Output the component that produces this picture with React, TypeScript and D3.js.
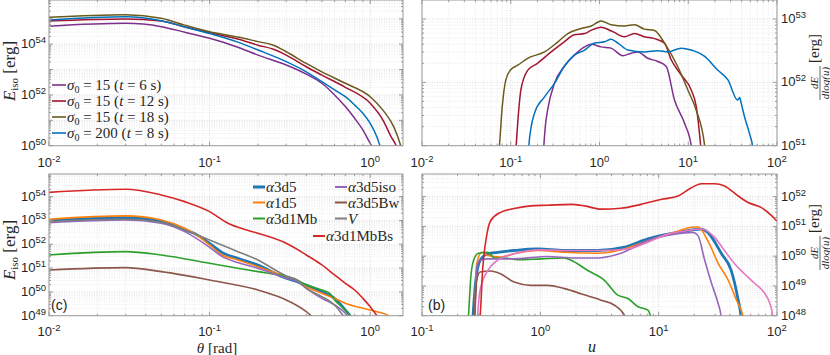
import React from "react";
import * as d3 from "d3";

type Pt = [number, number]; // [x value, log10 of energy in erg]

// ---------- Top-left: E_iso vs theta ----------
const tlS15t6: Pt[] = [[0.01,54.71],[0.03,54.82],[0.05,54.69],[0.07,54.47],[0.1,54.23],[0.15,53.88],[0.2,53.57],[0.3,53.18],[0.4,52.82],[0.5,52.46],[0.6,52.0],[0.7,51.54],[0.8,51.08],[0.9,50.62],[1.0,50.09],[1.02,50.0],[1.05,49.7]];
const tlS15t12: Pt[] = [[0.01,54.91],[0.03,54.99],[0.05,54.91],[0.07,54.68],[0.1,54.45],[0.15,54.2],[0.2,53.96],[0.25,53.8],[0.3,53.57],[0.4,53.11],[0.5,52.78],[0.7,52.3],[1.0,51.67],[1.2,51.01],[1.35,50.35],[1.45,50.0],[1.5,49.7]];
const tlS15t18: Pt[] = [[0.01,55.06],[0.03,55.16],[0.05,55.02],[0.07,54.75],[0.1,54.49],[0.15,54.28],[0.2,54.1],[0.25,53.96],[0.3,53.7],[0.4,53.24],[0.5,52.91],[0.7,52.46],[1.0,51.93],[1.2,51.4],[1.4,50.75],[1.55,50.0],[1.6,49.7]];
const tlS200t8: Pt[] = [[0.01,54.95],[0.03,55.08],[0.05,54.92],[0.07,54.68],[0.1,54.42],[0.15,54.08],[0.2,53.77],[0.3,53.31],[0.4,52.91],[0.5,52.52],[0.6,52.2],[0.7,51.93],[0.8,51.6],[0.9,51.28],[1.0,50.88],[1.1,50.35],[1.15,50.0],[1.2,49.7]];

// ---------- Top-right: dE/dlog(u) vs u ----------
const trS15t6: Pt[] = [[0.232,50.8],[0.236,51.0],[0.245,51.3],[0.26,51.56],[0.31,51.98],[0.4,52.25],[0.52,52.43],[0.68,52.56],[0.81,52.6],[1.04,52.56],[1.35,52.54],[1.83,52.42],[2.27,52.46],[2.7,52.48],[3.5,52.38],[4.54,52.33],[5.65,52.25],[7.0,51.72],[9.1,51.35],[10.8,51.0],[11.2,50.8]];
const trS15t12: Pt[] = [[0.112,50.8],[0.115,51.0],[0.122,51.5],[0.13,51.88],[0.155,52.19],[0.2,52.3],[0.285,52.48],[0.4,52.64],[0.52,52.75],[0.68,52.77],[0.8,52.82],[1.04,52.87],[1.41,52.8],[1.91,52.72],[2.48,52.77],[3.2,52.72],[4.17,52.69],[5.4,52.62],[6.4,52.36],[8.3,52.12],[10.8,51.88],[12.3,51.62],[13.8,51.0],[14.2,50.8]];
const trS15t18: Pt[] = [[0.072,50.8],[0.0745,51.0],[0.08,51.6],[0.088,52.04],[0.1,52.2],[0.12,52.27],[0.155,52.38],[0.24,52.48],[0.34,52.64],[0.44,52.77],[0.62,52.85],[0.81,52.89],[1.04,52.97],[1.35,52.91],[1.91,52.89],[2.48,52.91],[3.2,52.84],[4.17,52.82],[5.4,52.62],[7.6,52.25],[9.9,51.88],[12.3,51.56],[15.3,51.0],[15.8,50.8]];
const trS200t8: Pt[] = [[0.157,50.8],[0.16,51.0],[0.17,51.3],[0.185,51.51],[0.24,51.77],[0.31,51.98],[0.4,52.25],[0.52,52.43],[0.68,52.51],[0.88,52.62],[1.14,52.64],[1.35,52.68],[1.61,52.62],[2.09,52.51],[3.2,52.48],[4.54,52.5],[5.9,52.48],[8.3,52.54],[10.8,52.51],[15.3,52.41],[21.6,52.19],[28,52.04],[36,51.72],[38,51.76],[39.5,51.67],[43,51.46],[49,51.19],[53,51.0],[55,50.8]];

// ---------- Bottom-left: E_iso vs theta ----------
const blA3d5: Pt[] = [[0.01,52.99],[0.03,53.12],[0.05,52.95],[0.07,52.6],[0.08,52.46],[0.1,52.04],[0.12,51.65],[0.15,51.41],[0.2,51.13],[0.3,50.57],[0.35,50.43],[0.4,50.29],[0.5,50.01],[0.6,49.73],[0.7,49.24],[0.75,49.0],[0.77,48.9]];
const blA1d5: Pt[] = [[0.01,53.05],[0.03,53.19],[0.05,53.02],[0.07,52.67],[0.08,52.46],[0.1,51.97],[0.12,51.55],[0.15,51.34],[0.2,51.06],[0.3,50.64],[0.35,50.5],[0.4,50.22],[0.5,49.94],[0.6,49.73],[0.7,49.52],[0.9,49.31],[1.1,49.17],[1.3,49.0],[1.35,48.9]];
const blA3d1Mb: Pt[] = [[0.01,51.55],[0.03,51.69],[0.05,51.55],[0.1,51.2],[0.15,50.99],[0.2,50.85],[0.3,50.64],[0.35,50.5],[0.4,50.29],[0.5,50.08],[0.56,49.94],[0.6,49.66],[0.7,49.24],[0.75,49.0],[0.77,48.9]];
const blA3d5iso: Pt[] = [[0.01,52.91],[0.03,53.02],[0.05,52.88],[0.07,52.53],[0.1,51.87],[0.12,51.48],[0.15,51.23],[0.2,50.99],[0.3,50.57],[0.35,50.43],[0.4,50.15],[0.5,49.73],[0.6,49.45],[0.7,49.1],[0.72,49.0],[0.74,48.9]];
const blA3d5Bw: Pt[] = [[0.01,50.92],[0.03,51.02],[0.05,50.85],[0.1,50.5],[0.2,50.08],[0.25,49.87],[0.3,49.66],[0.4,49.17],[0.43,49.0],[0.45,48.9]];
const blV: Pt[] = [[0.01,52.95],[0.03,53.05],[0.05,52.91],[0.07,52.6],[0.1,52.18],[0.15,51.69],[0.2,51.34],[0.3,50.67],[0.35,50.5],[0.4,50.15],[0.5,49.8],[0.6,49.45],[0.68,49.0],[0.7,48.9]];
const blA3d1MbBs: Pt[] = [[0.01,54.18],[0.03,54.31],[0.05,54.07],[0.07,53.79],[0.1,53.37],[0.13,52.88],[0.17,52.6],[0.2,52.46],[0.3,52.04],[0.4,51.55],[0.5,51.13],[0.6,50.71],[0.7,50.36],[0.8,50.08],[0.9,49.73],[1.0,49.38],[1.1,49.0],[1.15,48.8]];

// ---------- Bottom-right: dE/dlog(u) vs u ----------
const brA3d5: Pt[] = [[0.268,47.8],[0.27,48.0],[0.285,49.19],[0.31,49.86],[0.36,50.08],[0.435,50.13],[0.6,50.19],[0.95,50.24],[1.6,50.19],[3.06,50.19],[5.15,50.3],[8.1,50.58],[12,50.74],[17.7,50.86],[23,50.91],[26,50.8],[34,50.08],[41,49.52],[47,48.52],[49.5,48.0],[50,47.8]];
const brA1d5: Pt[] = [[0.275,47.8],[0.278,48.0],[0.29,49.74],[0.32,50.13],[0.36,50.02],[0.46,49.97],[0.6,50.08],[0.95,50.19],[1.6,50.13],[3.06,50.1],[5.15,50.24],[8.1,50.52],[13.6,50.8],[18.9,50.97],[21.5,50.99],[26,50.52],[32,49.74],[38.7,49.19],[45.5,48.52],[51.6,48.0],[53,47.8]];
const brA3d1Mb: Pt[] = [[0.245,47.8],[0.247,48.0],[0.26,49.41],[0.276,49.91],[0.3,50.1],[0.36,50.13],[0.41,49.94],[0.5,49.94],[0.64,49.88],[1.01,49.91],[1.6,49.94],[1.82,49.86],[2.52,49.52],[3.48,49.19],[4.52,48.69],[5.5,48.58],[6.7,48.3],[8.1,48.19],[8.5,48.0],[8.7,47.8]];
const brA3d5iso: Pt[] = [[0.278,47.8],[0.28,48.0],[0.29,49.63],[0.31,49.86],[0.36,49.91],[0.6,49.91],[1.15,49.99],[1.94,49.94],[3.06,49.94],[4.8,50.1],[8.1,50.52],[13.6,50.74],[19.5,50.8],[21.5,50.69],[24.5,49.86],[28,49.08],[31.8,48.41],[33.6,48.0],[34,47.8]];
const brA3d5Bw: Pt[] = [[0.276,47.8],[0.278,48.0],[0.29,49.19],[0.31,49.47],[0.38,49.5],[0.46,49.41],[0.6,49.13],[0.83,49.02],[1.15,49.02],[1.6,48.91],[2.2,48.74],[3.26,48.52],[4.2,48.36],[5.15,48.0],[5.3,47.8]];
const brPink: Pt[] = [[0.293,47.8],[0.295,48.0],[0.31,48.86],[0.36,49.52],[0.435,49.86],[0.6,50.08],[1.01,50.21],[1.94,50.19],[3.26,50.19],[5.5,50.24],[8.1,50.47],[12,50.74],[17.7,50.86],[23,50.91],[29.7,50.63],[36,50.19],[44,49.74],[53,49.41],[65,49.08],[79,48.74],[87,48.41],[92,48.0],[93,47.8]];
const brA3d1MbBs: Pt[] = [[0.305,47.8],[0.31,48.0],[0.325,49.52],[0.35,50.63],[0.38,51.19],[0.46,51.47],[0.6,51.6],[0.83,51.69],[1.15,51.71],[1.82,51.74],[2.36,51.69],[3.26,51.58],[4.8,51.61],[7.1,51.74],[10.6,51.91],[14.6,52.02],[18.9,52.3],[23,52.43],[29.7,52.43],[36,52.36],[47,52.02],[57,51.8],[74,51.63],[90,51.36],[100,51.17]];

// tick exponents
const tlXTicks = [-2, -1, 0];
const tlYTicks = [50, 52, 54];
const trXTicks = [-2, -1, 0, 1, 2];
const trYTicks = [51, 52, 53];
const blXTicks = [-2, -1, 0];
const blYTicks = [49, 50, 51, 52, 53, 54];
const brXTicks = [-1, 0, 1, 2];
const brYTicks = [48, 49, 50, 51, 52];

// colours
const cPurpleM = "#7E2F8E", cRedM = "#A2142F", cOliveM = "#6A5A1C", cBlueM = "#0072BD";
const cBlue = "#1f77b4", cOrange = "#ff7f0e", cGreen = "#2ca02c", cPurple = "#9467bd",
  cBrown = "#8c564b", cGrey = "#7f7f7f", cRed = "#d62728", cPink = "#e377c2";

type Series = { data: Pt[]; color: string; width: number };

const SANS = "'Liberation Sans', Arial, sans-serif";
const SERIF = "'Liberation Serif', 'DejaVu Serif', serif";
const FRAME = "#9a9a9a";

function Sup({ e }: { e: number }) {
  return (
    <>
      10<tspan dy={-5} fontSize={9.5}>{e}</tspan>
    </>
  );
}

type PanelProps = {
  id: string;
  left: number; right: number; top: number; bottom: number;
  xDom: [number, number]; yDomLog: [number, number];
  xTicks: number[]; yTicks: number[];
  ySide: "left" | "right";
  xLabelY: number;
  series: Series[];
};

function Panel(p: PanelProps) {
  const xs = d3.scaleLog().domain(p.xDom).range([p.left, p.right]);
  const ys = d3.scaleLog().domain([10 ** p.yDomLog[0], 10 ** p.yDomLog[1]]).range([p.bottom, p.top]);
  const line = d3.line<Pt>().x((d) => xs(d[0])).y((d) => ys(10 ** d[1])).curve(d3.curveMonotoneX);

  const xMinor: number[] = [];
  for (let e = Math.floor(Math.log10(p.xDom[0])); e <= Math.ceil(Math.log10(p.xDom[1])); e++) {
    for (let k = 2; k <= 9; k++) {
      const v = k * 10 ** e;
      if (v > p.xDom[0] && v < p.xDom[1]) xMinor.push(v);
    }
  }
  const xMajor: number[] = [];
  for (let e = Math.ceil(Math.log10(p.xDom[0]) - 1e-9); 10 ** e <= p.xDom[1] * 1.0001; e++) xMajor.push(10 ** e);
  const yMinor: number[] = [];
  const yMajor: number[] = [];
  for (let e = Math.floor(p.yDomLog[0]); e <= Math.ceil(p.yDomLog[1]); e++) {
    if (e >= p.yDomLog[0] && e <= p.yDomLog[1]) yMajor.push(10 ** e);
    for (let k = 2; k <= 9; k++) {
      const lv = e + Math.log10(k);
      if (lv > p.yDomLog[0] && lv < p.yDomLog[1]) yMinor.push(k * 10 ** e);
    }
  }
  const w = p.right - p.left, h = p.bottom - p.top;
  return (
    <g>
      <defs>
        <clipPath id={p.id}>
          <rect x={p.left} y={p.top} width={w} height={h} />
        </clipPath>
      </defs>
      <rect x={p.left} y={p.top} width={w} height={h} fill="#fff" />
      {xMinor.map((v, i) => (
        <line key={"xm" + i} x1={xs(v)} x2={xs(v)} y1={p.top} y2={p.bottom} stroke="#e4e4e4" strokeWidth={0.8} strokeDasharray="1,1.5" />
      ))}
      {yMinor.map((v, i) => (
        <line key={"ym" + i} x1={p.left} x2={p.right} y1={ys(v)} y2={ys(v)} stroke="#e4e4e4" strokeWidth={0.8} strokeDasharray="1,1.5" />
      ))}
      {xMajor.map((v, i) => (
        <line key={"xM" + i} x1={xs(v)} x2={xs(v)} y1={p.top} y2={p.bottom} stroke="#d2d2d2" strokeWidth={0.8} strokeDasharray="1,1.5" />
      ))}
      {yMajor.map((v, i) => (
        <line key={"yM" + i} x1={p.left} x2={p.right} y1={ys(v)} y2={ys(v)} stroke="#d2d2d2" strokeWidth={0.8} strokeDasharray="1,1.5" />
      ))}
      <g clipPath={`url(#${p.id})`}>
        {p.series.map((s, i) => (
          <path key={i} d={line(s.data) || ""} fill="none" stroke={s.color} strokeWidth={s.width} strokeLinejoin="round" />
        ))}
      </g>
      {xMajor.map((v, i) => (
        <g key={"xt" + i}>
          <line x1={xs(v)} x2={xs(v)} y1={p.bottom} y2={p.bottom - 4} stroke={FRAME} />
          <line x1={xs(v)} x2={xs(v)} y1={p.top} y2={p.top + 4} stroke={FRAME} />
        </g>
      ))}
      {xMinor.map((v, i) => (
        <g key={"xmt" + i}>
          <line x1={xs(v)} x2={xs(v)} y1={p.bottom} y2={p.bottom - 2} stroke={FRAME} />
          <line x1={xs(v)} x2={xs(v)} y1={p.top} y2={p.top + 2} stroke={FRAME} />
        </g>
      ))}
      {yMajor.map((v, i) => (
        <g key={"yt" + i}>
          <line x1={p.left} x2={p.left + 4} y1={ys(v)} y2={ys(v)} stroke={FRAME} />
          <line x1={p.right} x2={p.right - 4} y1={ys(v)} y2={ys(v)} stroke={FRAME} />
        </g>
      ))}
      {yMinor.map((v, i) => (
        <g key={"ymt" + i}>
          <line x1={p.left} x2={p.left + 2} y1={ys(v)} y2={ys(v)} stroke={FRAME} />
          <line x1={p.right} x2={p.right - 2} y1={ys(v)} y2={ys(v)} stroke={FRAME} />
        </g>
      ))}
      <rect x={p.left} y={p.top} width={w} height={h} fill="none" stroke={FRAME} strokeWidth={1} />
      {p.xTicks.map((e) => (
        <text key={"xl" + e} x={xs(10 ** e)} y={p.xLabelY} textAnchor="middle" fontFamily={SANS} fontSize={13} fill="#262626">
          <Sup e={e} />
        </text>
      ))}
      {p.yTicks.map((e) => (
        <text
          key={"yl" + e}
          x={p.ySide === "left" ? p.left - 3 : p.right + 4}
          y={ys(10 ** e) + 4}
          textAnchor={p.ySide === "left" ? "end" : "start"}
          fontFamily={SANS}
          fontSize={13}
          fill="#262626"
        >
          <Sup e={e} />
        </text>
      ))}
    </g>
  );
}

function EisoLabel({ cx, cy }: { cx: number; cy: number }) {
  return (
    <text transform={`translate(${cx},${cy}) rotate(-90)`} textAnchor="middle" fontFamily={SERIF} fontSize={17} fill="#262626">
      <tspan fontStyle="italic">E</tspan>
      <tspan fontSize={11} dy={3}>iso</tspan>
      <tspan dy={-3}> [erg]</tspan>
    </text>
  );
}

function DELabel({ cx, cy }: { cx: number; cy: number }) {
  return (
    <g transform={`translate(${cx},${cy}) rotate(-90)`} fontFamily={SERIF} fill="#262626">
      <text x={-18} y={-2.5} textAnchor="middle" fontSize={11} fontStyle="italic">dE</text>
      <line x1={-35} x2={-1} y1={0} y2={0} stroke="#262626" strokeWidth={0.7} />
      <text x={-18} y={8.5} textAnchor="middle" fontSize={11} fontStyle="italic">dlog(u)</text>
      <text x={2} y={-1} textAnchor="start" fontSize={15}>[erg]</text>
    </g>
  );
}

function SigmaEntry({ x, y, color, sigma, t }: { x: number; y: number; color: string; sigma: string; t: string }) {
  return (
    <g>
      <line x1={x} x2={x + 14} y1={y} y2={y} stroke={color} strokeWidth={1.6} />
      <text x={x + 15} y={y + 5} fontFamily={SERIF} fontSize={15} fill="#262626">
        <tspan fontStyle="italic">σ</tspan>
        <tspan fontSize={10} dy={3}>0</tspan>
        <tspan dy={-3}>{` = ${sigma} (`}</tspan>
        <tspan fontStyle="italic">t</tspan>
        <tspan>{` = ${t} s)`}</tspan>
      </text>
    </g>
  );
}

function AlphaEntry({ x, y, color, label, width, italicAll }: { x: number; y: number; color: string; label: string; width: number; italicAll?: boolean }) {
  return (
    <g>
      <line x1={x} x2={x + 12} y1={y} y2={y} stroke={color} strokeWidth={width} />
      <text x={x + 13} y={y + 5} fontFamily={SERIF} fontSize={15} fill="#262626">
        {italicAll ? (
          <tspan fontStyle="italic">{label}</tspan>
        ) : (
          <>
            <tspan fontStyle="italic">α</tspan>
            <tspan>{label.slice(1)}</tspan>
          </>
        )}
      </text>
    </g>
  );
}

export default function App() {
  const topSeriesL: Series[] = [
    { data: tlS15t6, color: cPurpleM, width: 1.5 },
    { data: tlS15t12, color: cRedM, width: 1.5 },
    { data: tlS15t18, color: cOliveM, width: 1.5 },
    { data: tlS200t8, color: cBlueM, width: 1.5 },
  ];
  const topSeriesR: Series[] = [
    { data: trS15t6, color: cPurpleM, width: 1.5 },
    { data: trS15t12, color: cRedM, width: 1.5 },
    { data: trS15t18, color: cOliveM, width: 1.5 },
    { data: trS200t8, color: cBlueM, width: 1.5 },
  ];
  const botSeriesL: Series[] = [
    { data: blA3d5, color: cBlue, width: 2.6 },
    { data: blA1d5, color: cOrange, width: 1.6 },
    { data: blA3d1Mb, color: cGreen, width: 1.6 },
    { data: blA3d5iso, color: cPurple, width: 1.6 },
    { data: blA3d5Bw, color: cBrown, width: 1.6 },
    { data: blV, color: cGrey, width: 1.6 },
    { data: blA3d1MbBs, color: cRed, width: 1.6 },
  ];
  const botSeriesR: Series[] = [
    { data: brA3d5, color: cBlue, width: 2.8 },
    { data: brA1d5, color: cOrange, width: 1.6 },
    { data: brA3d1Mb, color: cGreen, width: 1.6 },
    { data: brA3d5iso, color: cPurple, width: 1.6 },
    { data: brA3d5Bw, color: cBrown, width: 1.6 },
    { data: brPink, color: cPink, width: 1.6 },
    { data: brA3d1MbBs, color: cRed, width: 1.6 },
  ];

  return (
    <svg width={830} height={355} style={{ position: "absolute", left: 0, top: 0, background: "#fff" }}>
      <rect width={830} height={355} fill="#fff" />
      <Panel id="cTL" left={49} right={403} top={0} bottom={145.7} xDom={[0.01, 1.6]} yDomLog={[50, 55.74]}
        xTicks={tlXTicks} yTicks={tlYTicks} ySide="left" xLabelY={167} series={topSeriesL} />
      <Panel id="cTR" left={422} right={777} top={0} bottom={145.7} xDom={[0.01, 100]} yDomLog={[51, 53.3]}
        xTicks={trXTicks} yTicks={trYTicks} ySide="right" xLabelY={167} series={topSeriesR} />
      <Panel id="cBL" left={49} right={403} top={174} bottom={315.7} xDom={[0.01, 1.6]} yDomLog={[49, 54.95]}
        xTicks={blXTicks} yTicks={blYTicks} ySide="left" xLabelY={336} series={botSeriesL} />
      <Panel id="cBR" left={422} right={777} top={174} bottom={315.7} xDom={[0.1, 100]} yDomLog={[48, 52.76]}
        xTicks={brXTicks} yTicks={brYTicks} ySide="right" xLabelY={336} series={botSeriesR} />

      <EisoLabel cx={15} cy={71} />
      <EisoLabel cx={15} cy={250} />
      <DELabel cx={820} cy={65} />
      <DELabel cx={820} cy={235} />

      <text x={217} y={353} textAnchor="middle" fontFamily={SERIF} fontSize={15} fill="#262626">
        <tspan fontStyle="italic">θ</tspan> [rad]
      </text>
      <text x={592} y={352} textAnchor="middle" fontFamily={SERIF} fontSize={16} fontStyle="italic" fill="#262626">u</text>

      <text x={51} y={310} fontFamily={SANS} fontSize={14} fill="#262626">(c)</text>
      <text x={428} y={310} fontFamily={SANS} fontSize={14} fill="#262626">(b)</text>

      <SigmaEntry x={52} y={85} color={cPurpleM} sigma="15" t="6" />
      <SigmaEntry x={52} y={101} color={cRedM} sigma="15" t="12" />
      <SigmaEntry x={52} y={117} color={cOliveM} sigma="15" t="18" />
      <SigmaEntry x={52} y={133} color={cBlueM} sigma="200" t="8" />

      <AlphaEntry x={253} y={187} color={cBlue} label="α3d5" width={3} />
      <AlphaEntry x={253} y={202.5} color={cOrange} label="α1d5" width={2} />
      <AlphaEntry x={253} y={218.5} color={cGreen} label="α3d1Mb" width={2} />
      <AlphaEntry x={335} y={187} color={cPurple} label="α3d5iso" width={2} />
      <AlphaEntry x={335} y={202.5} color={cBrown} label="α3d5Bw" width={2} />
      <AlphaEntry x={335} y={218.5} color={cGrey} label="V" width={2} italicAll />
      <AlphaEntry x={313} y={236} color={cRed} label="α3d1MbBs" width={2} />
    </svg>
  );
}
